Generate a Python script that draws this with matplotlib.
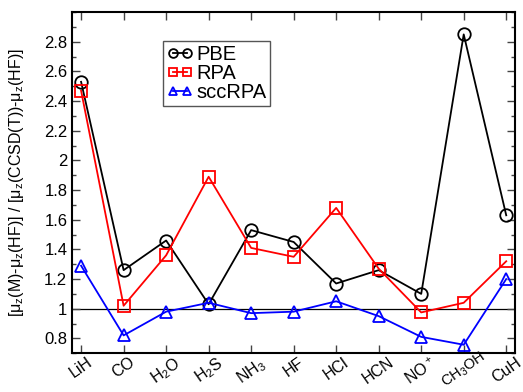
import numpy as np
import matplotlib.pyplot as plt
import matplotlib.transforms as mtransforms
from matplotlib.ticker import MultipleLocator

plt.rcParams['font.family'] = ['Liberation Sans', 'DejaVu Sans']
plt.rcParams['mathtext.fontset'] = 'custom'
plt.rcParams['mathtext.rm'] = 'Liberation Sans'
plt.rcParams['mathtext.it'] = 'Liberation Sans:italic'
plt.rcParams['mathtext.default'] = 'regular'

# molecules along the x axis
molecules = ['LiH', 'CO', 'H$_2$O', 'H$_2$S', 'NH$_3$', 'HF', 'HCl', 'HCN',
             'NO$^+$', 'CH$_3$OH', 'CuH']

# dipole ratios per method
pbe = [2.53, 1.26, 1.46, 1.03, 1.53, 1.45, 1.17, 1.26, 1.10, 2.85, 1.63]
rpa = [2.47, 1.02, 1.36, 1.89, 1.41, 1.35, 1.68, 1.27, 0.975, 1.04, 1.32]
sccrpa = [1.29, 0.82, 0.98, 1.04, 0.97, 0.98, 1.05, 0.95, 0.81, 0.757, 1.20]

x = np.arange(len(molecules))

fig = plt.figure(figsize=(5.23, 3.92), dpi=100)
ax = fig.add_axes([0.138, 0.099, 0.847, 0.870])

ax.axhline(1.0, color='black', lw=0.9, zorder=1)

ax.plot(x, pbe, color='black', lw=1.3, marker='o', ms=9, mfc='none',
        mew=1.3, label='PBE')
ax.plot(x, rpa, color='red', lw=1.3, marker='s', ms=8.5, mfc='none',
        mew=1.3, label='RPA')
ax.plot(x, sccrpa, color='blue', lw=1.3, marker='^', ms=9, mfc='none',
        mew=1.3, label='sccRPA')

ax.set_xlim(-0.21, 10.21)
ax.set_ylim(0.7, 3.0)
ax.set_xticks(x)
ax.set_xticklabels(molecules, rotation=35, ha='center', fontsize=11.5)
ax.yaxis.set_major_locator(MultipleLocator(0.2))
ax.yaxis.set_minor_locator(MultipleLocator(0.1))
ax.set_yticks([0.8, 1.0, 1.2, 1.4, 1.6, 1.8, 2.0, 2.2, 2.4, 2.6, 2.8])
ax.set_yticklabels(['0.8', '1', '1.2', '1.4', '1.6', '1.8', '2', '2.2', '2.4',
                    '2.6', '2.8'], fontsize=12)
ax.tick_params(axis='both', which='both', direction='in', top=True, right=True,
               width=1.0, color='#444444')
ax.tick_params(axis='both', which='major', length=6)
ax.tick_params(axis='x', which='major', pad=1)
ax.tick_params(axis='y', which='minor', length=3)
for s in ax.spines.values():
    s.set_linewidth(1.5)

# the CH3OH label is the tallest one; shrink and nudge it so it stays on the canvas
lbl = ax.get_xticklabels()[9]
lbl.set_fontsize(10.5)
lbl.set_transform(lbl.get_transform() +
                  mtransforms.ScaledTranslation(0, 6 / 100, fig.dpi_scale_trans))

ax.set_ylabel(r'[$\mu_z$(M)-$\mu_z$(HF)] / [$\mu_z$(CCSD(T))-$\mu_z$(HF)]',
              fontsize=11.5)
ax.yaxis.set_label_coords(-0.105, 0.5)

leg = ax.legend(loc='upper left', bbox_to_anchor=(0.205, 0.915), numpoints=2,
                handlelength=1.3, handletextpad=0.15, borderpad=0.2,
                labelspacing=0.0, fontsize=14.5, fancybox=False,
                framealpha=1, edgecolor='#555555', markerscale=0.7,
                borderaxespad=0)
leg.get_frame().set_linewidth(1.0)

fig.savefig('out.png', dpi=100)
